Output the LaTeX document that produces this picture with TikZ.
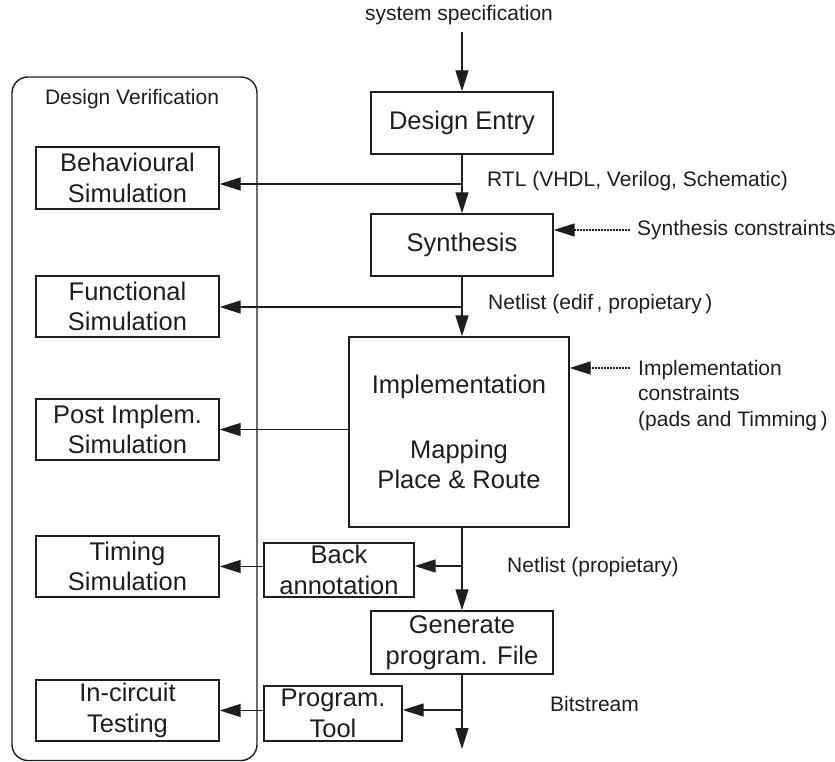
\documentclass[tikz,border=0pt]{standalone}
\usepackage{fontspec}
\setmainfont{Liberation Sans}
\usetikzlibrary{arrows.meta}
\definecolor{ink}{RGB}{30,30,30}
\newcommand{\bigtxt}{\fontsize{25.5}{30.6}\selectfont}
\newcommand{\smalltxt}{\fontsize{21}{25.5}\selectfont}
\begin{document}
\begin{tikzpicture}[x=1pt,y=-1pt,
  box/.style={draw=ink, line width=1.4pt, inner sep=0pt, align=center,
              text=ink, font=\bigtxt},
  lbl/.style={inner sep=0pt, text=ink, font=\smalltxt},
  arr/.style={draw=ink, line width=1.4pt, -{Triangle[length=21pt,width=13pt]}},
  ln/.style={draw=ink, line width=1.4pt},
  dotarr/.style={arr, dash pattern=on 1.6pt off 1.4pt}]

\useasboundingbox (0,0) rectangle (835,762);

% verification frame
\draw[ln, rounded corners=16pt] (12,77) rectangle (257,760.5);
\node[lbl] (dv) at (132,99) {Design Verification};

% main flow
\node[lbl] (spec) at (459,15) {system specification};
\node[box, minimum width=182pt, minimum height=62pt] (entry) at (462,123) {Design Entry};
\node[box, minimum width=182pt, minimum height=62pt] (synth) at (462,245) {Synthesis};
\node[box, minimum width=220pt, minimum height=190pt] (impl) at (459,432)
  {Implementation\\[34pt]Mapping\\Place \& Route};
\node[box, minimum width=182pt, minimum height=63pt] (gen) at (462,642.5)
  {Generate\\program. File};

% verification steps
\node[box, minimum width=183pt, minimum height=62pt] (behav) at (127.5,178) {Behavioural\\Simulation};
\node[box, minimum width=183pt, minimum height=61pt] (func) at (127.5,306.5) {Functional\\Simulation};
\node[box, minimum width=183pt, minimum height=61pt] (post) at (127.5,429.5) {Post Implem.\\Simulation};
\node[box, minimum width=183pt, minimum height=61pt] (timing) at (127.5,566.5) {Timing\\Simulation};
\node[box, minimum width=183pt, minimum height=61pt] (incirc) at (127.5,710.5) {In-circuit\\Testing};

% intermediate tools
\node[box, minimum width=150pt, minimum height=54pt] (back) at (339,570) {Back\\annotation};
\node[box, minimum width=138pt, minimum height=55pt] (prog) at (333,713.5) {Program.\\Tool};

% branch points and free ends
\coordinate (top) at (462,32);
\coordinate (j1) at (462,184);
\coordinate (j2) at (462,307);
\coordinate (j3) at (462,566);
\coordinate (j4) at (462,710);
\coordinate (out) at (462,749);
\coordinate (sc) at (630,230);
\coordinate (ic) at (630,368);

% connectors
\draw[arr] (top) -- (entry.north);
\draw[arr] (entry.south) -- (synth.north);
\draw[arr] (j1) -- (j1 -| behav.east);
\draw[arr] (synth.south) -- (synth.south |- impl.north);
\draw[arr] (j2) -- (j2 -| func.east);
\draw[arr] (post.east -| impl.west) -- (post.east);
\draw[arr] (impl.south -| j3) -- (gen.north);
\draw[arr] (j3) -- (j3 -| back.east);
\draw[arr] (timing.east -| back.west) -- (timing.east);
\draw[arr] (gen.south) -- (out);
\draw[arr] (j4) -- (j4 -| prog.east);
\draw[arr] (incirc.east -| prog.west) -- (incirc.east);
\draw[dotarr] (sc) -- (sc -| synth.east);
\draw[dotarr] (ic) -- (ic -| impl.east);

% labels
\node[lbl, anchor=west] (rtl) at (487,181) {RTL (VHDL, Verilog, Schematic)};
\node[lbl, anchor=west] (nl1) at (488,304) {Netlist (edif\,, propietary\,)};
\node[lbl, anchor=west] (scl) at (637,230) {Synthesis constraints};
\node[lbl, anchor=north west, align=left] (icl) at (638,360)
  {Implementation\\constraints\\(pads and Timming\,)};
\node[lbl, anchor=west] (nl2) at (507,567) {Netlist (propietary)};
\node[lbl, anchor=west] (bits) at (550,704) {Bitstream};
\end{tikzpicture}
\end{document}
